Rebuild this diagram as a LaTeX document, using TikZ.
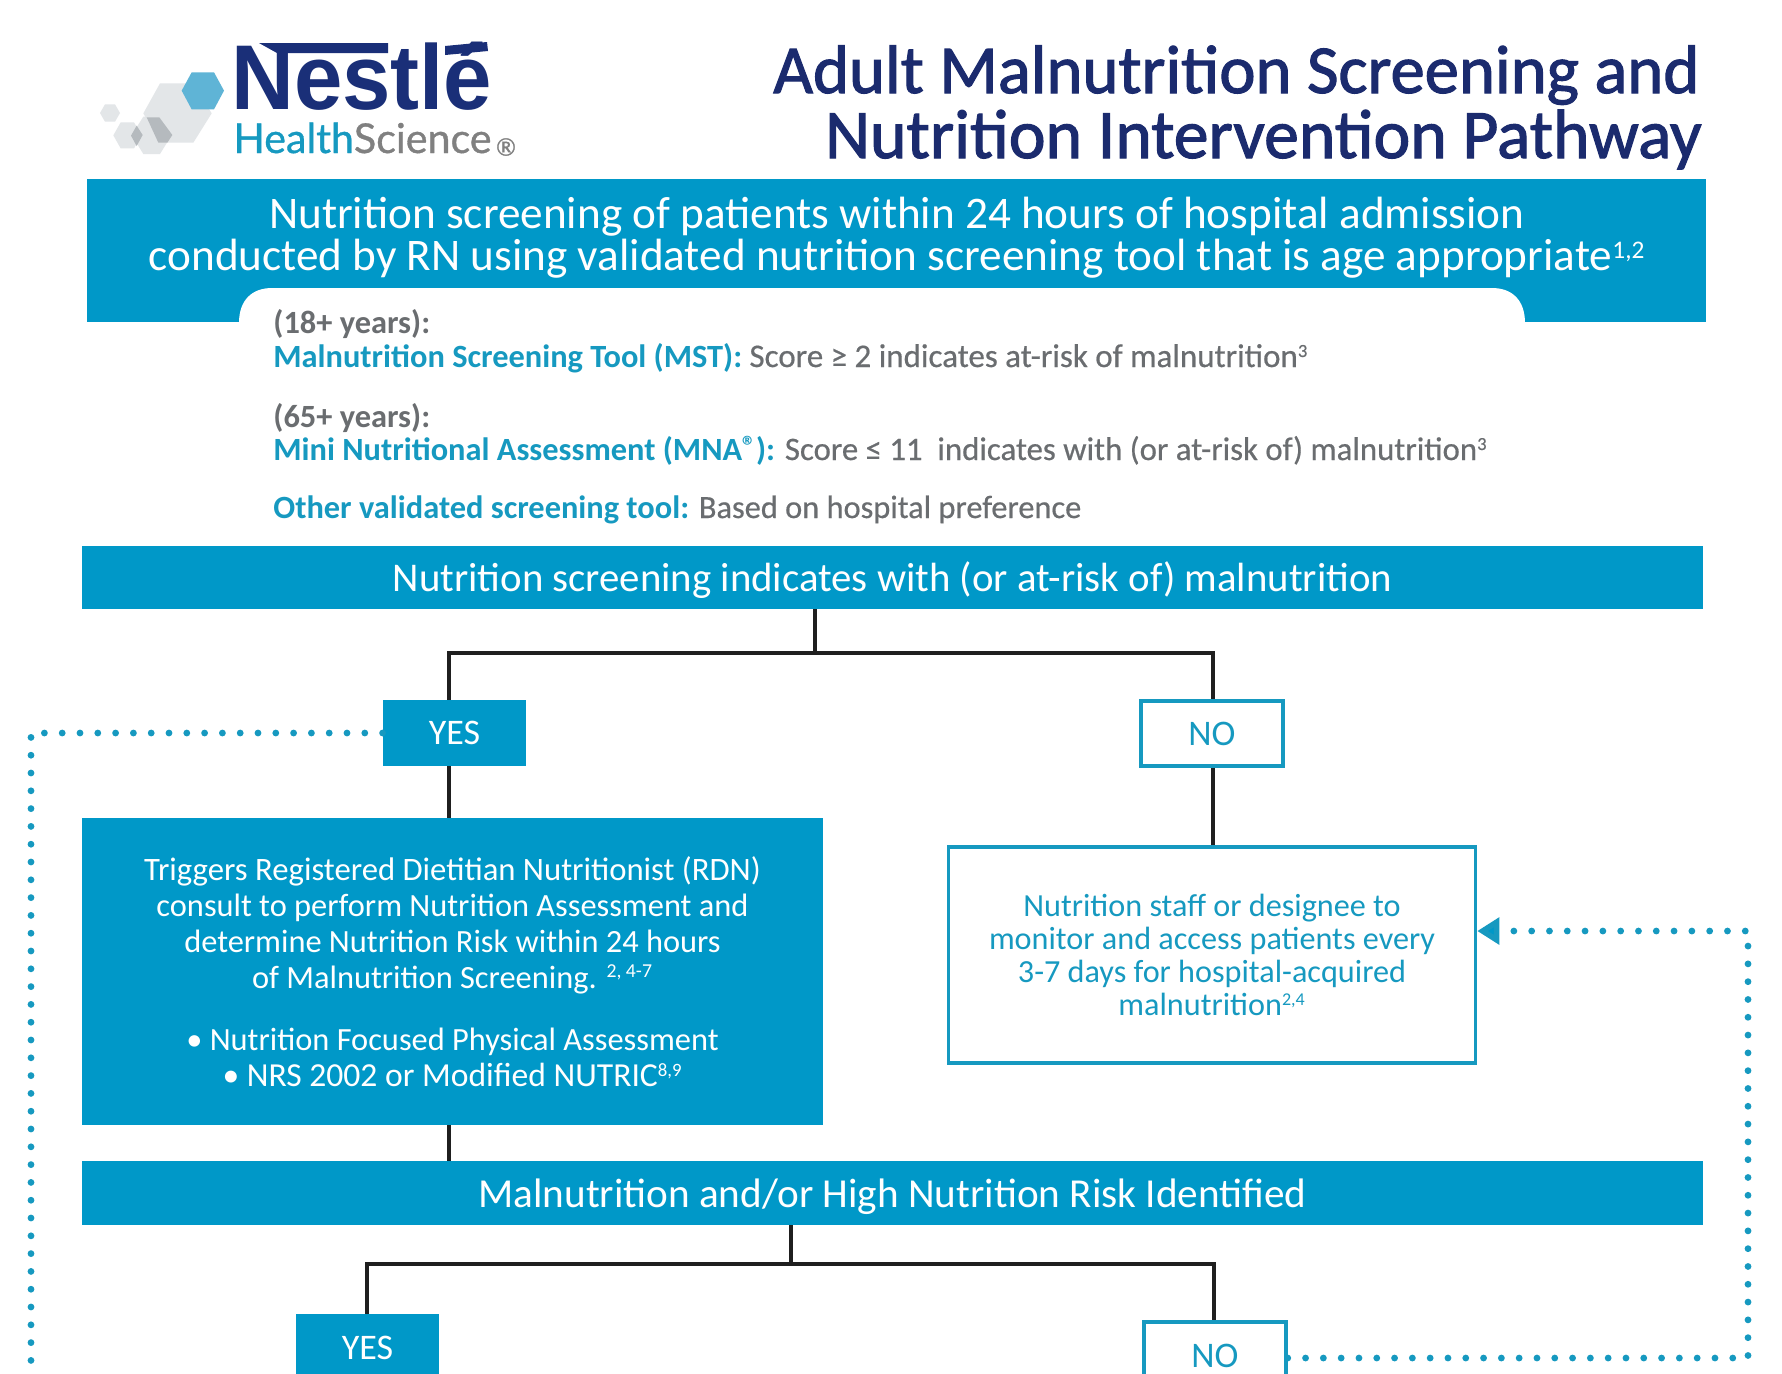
\documentclass[tikz,border=0pt]{standalone}
\usepackage{fontspec}
\setmainfont{Carlito}
\newfontfamily\logofont{Liberation Sans}
\newfontfamily\hsfont[FakeBold=0.8]{Lato}
\newfontfamily\semib[FakeBold=1.6]{Carlito}
\newfontfamily\mediumf[FakeBold=0.5]{Carlito}
\usetikzlibrary{arrows.meta,calc}
\definecolor{barblue}{HTML}{0098C8}
\definecolor{tealc}{HTML}{1699C0}
\definecolor{navy}{HTML}{1B2B6E}
\definecolor{logonavy}{HTML}{1A2F78}
\definecolor{graytxt}{HTML}{6A6D70}
\definecolor{hexblue}{HTML}{5FB4D6}
\definecolor{hexgray}{HTML}{E3E6E8}
\definecolor{hexdark}{HTML}{B5BABE}
\newcommand{\fsz}[2]{\fontsize{#1}{#2}\selectfont}
\newcommand{\sups}[1]{\scalebox{0.8}{\textsuperscript{#1}}}
\tikzset{
  bar/.style={fill=barblue,text=white,inner sep=0pt,align=center},
  outlined/.style={draw=tealc,line width=1.75pt,fill=white,text=tealc,inner sep=0pt,align=center},
  conn/.style={draw=black!88,line width=1.6pt},
  dotline/.style={draw=tealc,line width=3.4pt,line cap=round,dash pattern=on 0pt off 8.9pt},
  listline/.style={anchor=base west,inner sep=0pt,font=\fsz{16.2pt}{19pt}},
}
\begin{document}
\begin{tikzpicture}[x=0.5pt,y=-0.5pt]
\useasboundingbox (0,0) rectangle (1782,1373);
\clip (0,0) rectangle (1782,1373);
\fill[white] (0,0) rectangle (1782,1373);
% logo hexagons
\begin{scope}[shift={(60,20)},x=0.16667pt,y=-0.16667pt]
\fill[hexgray] (250,280)--(300,190)--(400,190)--(455,280)--(400,368)--(300,368)--cycle;
\fill[hexgray] (120,279)--(135,253)--(165,253)--(180,279)--(165,305)--(135,305)--cycle;
\fill[hexgray] (160,346)--(182,307)--(222,307)--(245,346)--(222,385)--(182,385)--cycle;
\fill[hexgray] (215,345)--(250,290)--(300,290)--(335,345)--(300,402)--(250,402)--cycle;
\fill[hexdark] (260,292)--(298,292)--(337,345)--(322,368)--(295,368)--cycle;
\fill[hexdark] (230,317)--(248,345)--(230,378)--(213,347)--cycle;
\fill[hexblue] (365,212)--(395,157)--(462,157)--(492,212)--(462,268)--(395,268)--cycle;
\end{scope}
\node[anchor=base west,inner sep=0pt,text=logonavy] (nestle) at (231,109) {\scalebox{0.945}[1]{\logofont\bfseries\fsz{46pt}{46pt}Nestlé}};
\fill[logonavy] (259,43)--(388,43)--(388,53)--(277,53)--cycle;
\fill[logonavy] (445,46)--(487,42)--(488,51)--(445,55)--cycle;
\node[anchor=base west,inner sep=0pt] (hs) at (233,153) {\hsfont\fsz{20.6pt}{20pt}\textcolor{tealc}{Health}\textcolor{gray}{Science}};
\node[anchor=center,inner sep=0pt,text=gray] (reg) at (506,147) {\hsfont\fsz{12pt}{13pt}®};
% title
\node[anchor=base east,inner sep=0pt,text=navy] (title1) at (1700,93) {\semib\fsz{34.3pt}{33pt}Adult Malnutrition Screening and};
\node[anchor=base east,inner sep=0pt,text=navy] (title2) at (1702,158) {\semib\fsz{34.8pt}{33pt}Nutrition Intervention Pathway};
% header band
\node[bar,minimum width=809.5pt,minimum height=71.75pt,anchor=north west] (hdr) at (87,178.5) {};
\fill[white] (239,323) .. controls (239,300) and (252,288) .. (272,288) -- (1492,288) .. controls (1512,288) and (1525,300) .. (1525,323) -- cycle;
\node[text=white,inner sep=0pt,align=center,font=\fsz{22.6pt}{21pt}] (hdrtxt) at (897,237.5) {Nutrition screening of patients within 24 hours of hospital admission\\conducted by RN using validated nutrition screening tool that is age appropriate\sups{1,2}};
% list
\node[listline,text=graytxt] (l1) at (273,333) {\bfseries (18+ years):};
\node[listline,text=tealc] (l2) at (273,367) {\bfseries Malnutrition Screening Tool (MST): \mdseries\mediumf\fsz{16.5pt}{19pt}\textcolor{graytxt}{Score ≥ 2 indicates at-risk of malnutrition\sups{3}}};
\node[listline,text=graytxt] (l3) at (273,427) {\bfseries (65+ years):};
\node[listline,text=tealc] (l4) at (273,460) {\bfseries Mini Nutritional Assessment (MNA\raisebox{0.15em}{\scalebox{0.85}{®}}): \mdseries\mediumf\fsz{16.4pt}{19pt}\textcolor{graytxt}{Score ≤ 11\ \ indicates with (or at-risk of) malnutrition\sups{3}}};
\node[listline,text=tealc] (l5) at (273,518) {\bfseries Other validated screening tool: \mdseries\mediumf\fsz{16.2pt}{19pt}\textcolor{graytxt}{Based on hospital preference}};
% bars and boxes
\node[bar,minimum width=810.5pt,minimum height=31.5pt,font=\fsz{20.4pt}{24pt}] (bar2) at (892.5,577.5) {\raisebox{-6.9pt}[0pt][0pt]{Nutrition screening indicates with (or at-risk of) malnutrition}};
\node[bar,minimum width=71.5pt,minimum height=33pt,font=\fsz{18pt}{20pt}] (yes1) at (454.5,733) {YES};
\node[outlined,minimum width=71pt,minimum height=32.5pt,font=\fsz{18pt}{20pt}] (no1) at (1212,733.5) {NO};
\node[bar,minimum width=370.5pt,minimum height=153.5pt,font=\fsz{16.2pt}{18pt}] (rdn) at (452.5,971.5) {{\fsz{16.35pt}{18pt}Triggers Registered Dietitian Nutritionist (RDN)}\\consult to perform Nutrition Assessment and\\determine Nutrition Risk within 24 hours\\of Malnutrition Screening. \scalebox{0.87}{\textsuperscript{2, 4-7}}\\[13pt]• Nutrition Focused Physical Assessment\\{\fsz{16.8pt}{18pt}• NRS 2002 or Modified NUTRIC\sups{8,9}}};
\node[outlined,minimum width=263.5pt,minimum height=108pt,font=\fsz{16.1pt}{16.5pt}] (nutri) at (1212,955) {Nutrition staff or designee to\\monitor and access patients every\\3-7 days for hospital-acquired\\malnutrition\sups{2,4}};
\node[bar,minimum width=810.5pt,minimum height=32pt,font=\fsz{20.6pt}{24pt}] (bar3) at (892.5,1193) {\raisebox{-7.2pt}[0pt][0pt]{Malnutrition and/or High Nutrition Risk Identified}};
\node[bar,minimum width=71.5pt,minimum height=34pt,font=\fsz{18pt}{20pt}] (yes2) at (367.5,1348) {YES};
\node[outlined,minimum width=71pt,minimum height=36pt,font=\fsz{18pt}{20pt}] (no2) at (1215,1358) {\raisebox{-4.8pt}[0pt][0pt]{NO}};
% connectors
\coordinate (j1) at (815,653);
\coordinate (jl) at (449,653);
\coordinate (jr) at (1213,653);
\coordinate (j2) at (791,1264);
\coordinate (kl) at (367,1264);
\coordinate (kr) at (1214,1264);
\coordinate (lc) at (31,1400);
\coordinate (rc) at (1748,931);
\draw[conn] (j1 |- bar2.south) -- (j1);
\draw[conn] (jl |- yes1.north) -- (jl) -- (jr) -- (jr |- no1.north);
\draw[conn] (jl |- yes1.south) -- (jl |- rdn.north);
\draw[conn] (jl |- rdn.south) -- (jl |- bar3.north);
\draw[conn] (jr |- no1.south) -- (jr |- nutri.north);
\draw[conn] (j2 |- bar3.south) -- (j2);
\draw[conn] (kl |- yes2.north) -- (kl) -- (kr) -- (kr |- no2.north);
\draw[dotline] (yes1.west) -- (yes1.west -| lc) -- (lc);
\draw[dotline,-{Triangle[length=11pt,width=13pt,fill=barblue]}] (no2.east) -- (no2.east -| rc) -- (rc) -- (rc -| nutri.east);
\end{tikzpicture}
\end{document}
